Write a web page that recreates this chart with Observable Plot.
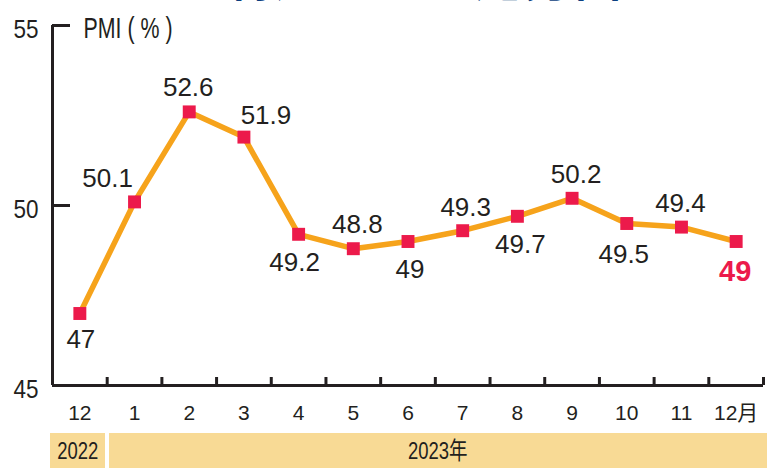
<!DOCTYPE html>
<html>
<head>
<meta charset="utf-8">
<script src="https://cdn.jsdelivr.net/npm/d3@7"></script>
<script src="https://cdn.jsdelivr.net/npm/@observablehq/plot@0.6"></script>
<style>
  html, body { margin: 0; padding: 0; background: #fff; }
  #wrap { position: relative; width: 767px; height: 475px; overflow: hidden; background: #fff; }
  #title { position: absolute; z-index: 5; left: 224px; top: -48px; font-family: 'Noto Sans CJK SC', sans-serif; font-weight: bold; font-size: 46px; line-height: 48px; color: #0C3F80; white-space: nowrap; letter-spacing: 4.5px; }
  #chart { position: absolute; left: 0; top: 0; z-index: 1; }
  .yr { position: absolute; top: 433px; height: 35px; background: #F8DA95; color: #231F20; font-size: 24px; line-height: 35px; text-align: center; white-space: nowrap; overflow: hidden; }
  .yr span { display: inline-block; }
</style>
</head>
<body>
<div id="wrap">
  <div id="title">制造业PMI走势图</div>
  <div id="chart"></div>
</div>
<script>
// ---- data ----
const months = ["12", "1", "2", "3", "4", "5", "6", "7", "8", "9", "10", "11", "12月"];
const pmi = [47, 50.1, 52.6, 51.9, 49.2, 48.8, 49, 49.3, 49.7, 50.2, 49.5, 49.4, 49];
const yTicks = [45, 50, 55];
const years = ["2022", "2023年"];
const yearFirstMonth = [0, 1];
const yearLastMonth = [0, 12];
const yLabel = "PMI ( % )";

// ---- styles ----
const ink = "#231F20";
const lineColor = "#F6A31B";
const markColor = "#EC1A4B";
const W = 767, H = 430, mL = 52, mR = 4, mT = 25, mB = 45;
const bw = (W - mL - mR) / months.length;
const pxPerUnit = (H - mT - mB) / (yTicks[yTicks.length - 1] - yTicks[0]);

// label offsets (dx, dy in px, baseline relative to point)
const labelOffsets = [[1, 34], [-27, -15], [-1, -16], [22, -13], [-4, 37], [4, -16], [2, 36], [3, -15], [3, 37], [4, -15], [-3, 39], [-1, -15], [-1, 39]];

function hasFont(name) {
  const c = document.createElement("canvas").getContext("2d");
  c.font = "40px monospace";
  const a = c.measureText("2022 PMI mwi").width;
  c.font = `40px '${name}', monospace`;
  const b = c.measureText("2022 PMI mwi").width;
  return a !== b;
}
const narrowOK = hasFont("Liberation Sans Narrow");
const narrowFamily = narrowOK ? "'Liberation Sans Narrow', 'Noto Sans CJK SC', sans-serif" : "'Liberation Sans', 'Noto Sans CJK SC', sans-serif";
const sansFamily = "'Liberation Sans', Arial, 'Noto Sans CJK SC', sans-serif";

const data = pmi.map((v, i) => ({i, v, m: months[i]}));
const idx = d3.range(months.length);
const boundaries = d3.range(months.length).map(i => i + 0.5);
const xMin = -0.5, xMax = months.length - 0.5;
const yMin = yTicks[0], yMax = yTicks[yTicks.length - 1];

const valueLabels = data.map((d, k) => Plot.text([d], {
  x: "i", y: "v", text: d => String(d.v),
  dx: labelOffsets[k][0], dy: labelOffsets[k][1],
  lineAnchor: "bottom", textAnchor: "middle",
  fontSize: k === data.length - 1 ? 29 : 26,
  fontWeight: k === data.length - 1 ? "bold" : "normal",
  fontFamily: sansFamily,
  fill: k === data.length - 1 ? markColor : ink,
  style: "letter-spacing:0.8px"
}));

const plot = Plot.plot({
  width: W, height: H,
  marginLeft: mL, marginRight: mR, marginTop: mT, marginBottom: mB,
  x: {type: "linear", domain: [xMin, xMax]},
  y: {domain: [yMin, yMax]},
  style: {background: "transparent", color: ink, fontFamily: sansFamily, overflow: "visible"},
  marks: [
    Plot.ruleX([xMin], {y1: yMin, y2: yMax, stroke: ink, strokeWidth: 3}),
    Plot.ruleY([yMin], {x1: xMin, x2: xMax, stroke: ink, strokeWidth: 3}),
    Plot.ruleY(yTicks.slice(1), {x1: xMin, x2: xMin + 18 / bw, stroke: ink, strokeWidth: 3}),
    Plot.ruleX(boundaries, {y1: yMin, y2: yMin + 8 / pxPerUnit, stroke: ink, strokeWidth: 3}),
    Plot.axisY({ticks: yTicks, tickSize: 0, tickPadding: 14, fontSize: 26, dy: 4, label: null, fontFamily: narrowFamily}),
    Plot.axisX({ticks: idx, tickFormat: i => months[i], tickSize: 0, tickPadding: 20, fontSize: 21, label: null, fontFamily: narrowFamily}),
    Plot.text([yLabel], {frameAnchor: "top-left", dx: 31, dy: 12, lineAnchor: "bottom", textAnchor: "start", fontSize: 30, fontFamily: narrowFamily, fill: ink}),
    Plot.line(data, {x: "i", y: "v", stroke: lineColor, strokeWidth: 5.5, strokeLinejoin: "round"}),
    Plot.dot(data, {x: "i", y: "v", symbol: "square", r: 7.3, fill: markColor, stroke: "none"}),
    ...valueLabels
  ]
});
document.getElementById("chart").appendChild(plot);

// condense the narrow-style texts (axis label and y tick labels) to the reference widths
d3.select(plot).selectAll("text").each(function () {
  const t = this.textContent;
  if (t === yLabel) { this.setAttribute("textLength", 89); this.setAttribute("lengthAdjust", "spacingAndGlyphs"); }
});
d3.select(plot).selectAll('g[aria-label="y-axis tick label"] text').each(function () {
  this.setAttribute("textLength", 25); this.setAttribute("lengthAdjust", "spacingAndGlyphs");
});

// year band below the axis, aligned with the x scale
const xs = plot.scale("x");
const wrap = document.getElementById("wrap");
years.forEach((y, k) => {
  const left = k === 0 ? xs.apply(yearFirstMonth[k] - 0.5) - 2 : xs.apply(yearFirstMonth[k] - 0.5) + 2.3;
  const right = k === years.length - 1 ? W : xs.apply(yearLastMonth[k] + 0.5) - 1.7;
  const div = document.createElement("div");
  div.className = "yr";
  div.style.left = left + "px";
  div.style.width = (right - left) + "px";
  div.style.fontFamily = narrowFamily;
  const span = document.createElement("span");
  span.textContent = y;
  if (!narrowOK) span.style.transform = "scaleX(0.77)";
  div.appendChild(span);
  wrap.appendChild(div);
});
</script>
</body>
</html>
